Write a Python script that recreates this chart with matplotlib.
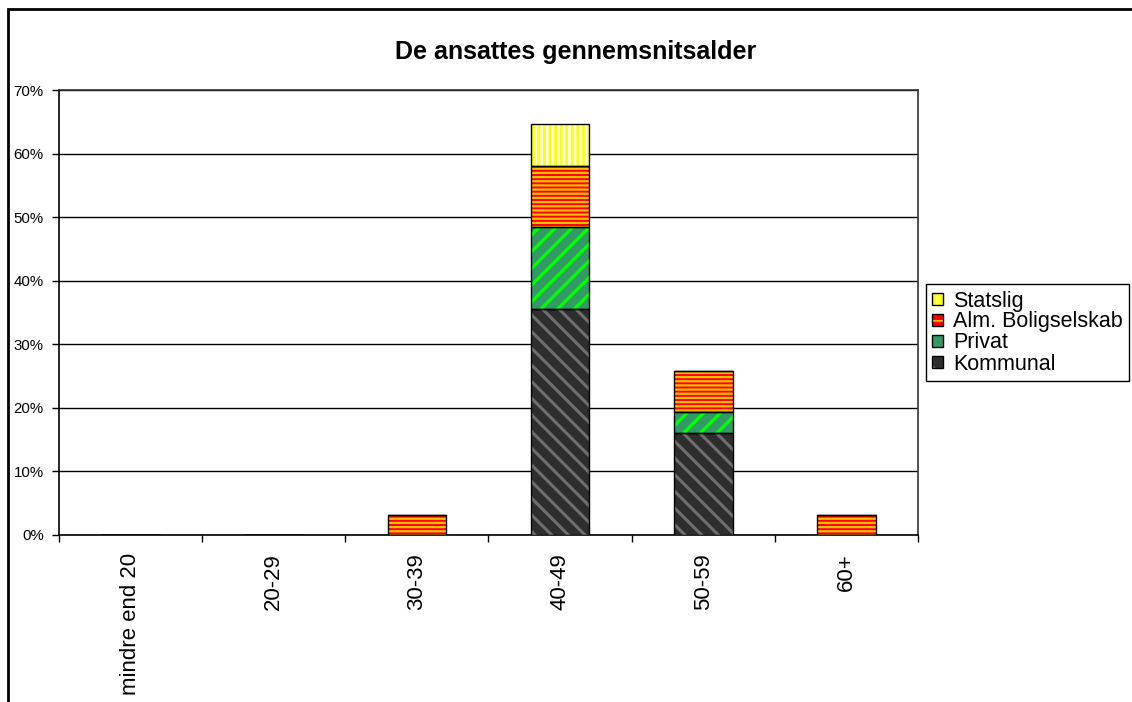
import matplotlib
matplotlib.use("Agg")
import matplotlib.pyplot as plt
import numpy as np
from matplotlib.patches import Patch, Rectangle
from matplotlib.legend_handler import HandlerTuple

plt.rcParams['font.family'] = ['Liberation Sans', 'DejaVu Sans']

categories = ["mindre end 20", "20-29", "30-39", "40-49", "50-59", "60+"]
kommunal = [0.0, 0.0, 0.0, 35.5, 16.1, 0.0]
privat = [0.0, 0.0, 0.0, 12.9, 3.2, 0.0]
alm_bolig = [0.0, 0.0, 3.2, 9.7, 6.5, 3.2]
statslig = [0.0, 0.0, 0.0, 6.5, 0.0, 0.0]
yticks = [0, 10, 20, 30, 40, 50, 60, 70]

series = [
    ("Kommunal", kommunal, "#2e2e2e", "#6e6e6e", "\\\\", 2.2),
    ("Privat", privat, "#339966", "#00ff00", "//", 2.4),
    ("Alm. Boligselskab", alm_bolig, "#ff0000", "#ffc000", "----", 1.6),
    ("Statslig", statslig, "#ffff00", "#ffffff", "|||", 1.9),
]

fig = plt.figure(figsize=(11.32, 7.02), dpi=100)
ax = fig.add_axes([59/1132, 1-535/702, (918-59)/1132, (535-90)/702])

x = np.arange(len(categories))
width = 0.41
bottom = np.zeros(len(categories))
handles = []
for name, vals, base, stripe, hatch, hlw in series:
    vals = np.array(vals)
    with plt.rc_context({'hatch.linewidth': hlw}):
        bars = ax.bar(x, vals, width, bottom=bottom, color=base, edgecolor=stripe,
                      hatch=hatch, linewidth=0, zorder=3)
        for b in bars:
            if hasattr(b, "set_hatch_linewidth"):
                b.set_hatch_linewidth(hlw)
        ax.bar(x, vals, width, bottom=bottom, facecolor='none', edgecolor='black',
               linewidth=1.0, zorder=4)
    lh = min(hlw, 1.3)
    h1 = Patch(facecolor=base, edgecolor=stripe, hatch=hatch[:2] if len(hatch) > 2 else hatch[:1], linewidth=0)
    if hasattr(h1, "set_hatch_linewidth"):
        h1.set_hatch_linewidth(lh)
    h2 = Patch(facecolor='none', edgecolor='black', linewidth=1.0)
    handles.append((name, (h1, h2)))
    bottom = bottom + vals

ax.set_xlim(-0.5, len(categories) - 0.5)
ax.set_ylim(0, 70)
ax.set_yticks(yticks)
ax.set_yticklabels([f"{v}%" for v in yticks], fontsize=10.8)
ax.yaxis.grid(True, color='black', linewidth=1.0, zorder=0)
ax.set_axisbelow(True)
ax.tick_params(axis='y', direction='out', length=5, width=1, pad=6)

ax.set_xticks(x)
ax.set_xticklabels(categories, rotation=90, fontsize=16, va='top')
ax.tick_params(axis='x', which='major', length=0, pad=13)
ax.set_xticks(np.arange(len(categories) + 1) - 0.5, minor=True)
ax.tick_params(axis='x', which='minor', direction='out', length=5, width=1)

for s in ['left', 'bottom']:
    ax.spines[s].set_color('black')
    ax.spines[s].set_linewidth(1.2)
for s in ['top', 'right']:
    ax.spines[s].set_color('#333333')
    ax.spines[s].set_linewidth(1.2)

fig.text(576/1132, 1-52/702, "De ansattes gennemsnitsalder", ha='center', va='center',
         fontsize=18, fontweight='bold')

# legend (reverse order like the reference)
handles = handles[::-1]
with plt.rc_context({'hatch.linewidth': 1.2}):
    leg = fig.legend([h for _, h in handles], [n for n, _ in handles],
                     handler_map={tuple: HandlerTuple(ndivide=1, pad=0)},
                     loc='center left', bbox_to_anchor=(926/1132, 1-332.5/702),
                     fontsize=15.5, frameon=True, fancybox=False, edgecolor='black',
                     framealpha=1, handlelength=0.5, handleheight=0.5,
                     handletextpad=0.45, labelspacing=0.0, borderpad=0.3,
                     borderaxespad=0)
leg.get_frame().set_linewidth(1.0)

# outer chart frame
fig.patches.append(Rectangle((8/1132, -0.05), 1.2, 1-9/702+0.05, transform=fig.transFigure,
                             fill=False, edgecolor='black', linewidth=2.0))

fig.savefig("out.png", dpi=100)
